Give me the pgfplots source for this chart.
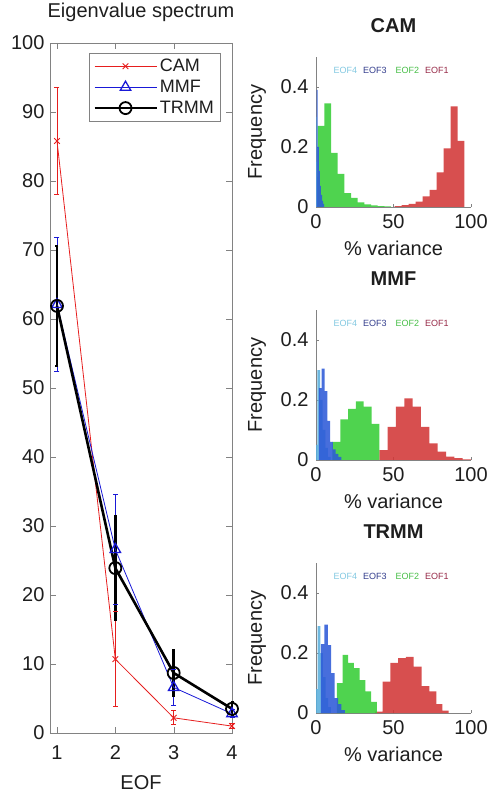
\documentclass[border=0pt]{standalone}
\usepackage{pgfplots}
\pgfplotsset{compat=1.18}
\usepackage{fontspec}
\setmainfont{Liberation Sans}

\definecolor{camred}{RGB}{230,30,30}
\definecolor{mmfblue}{RGB}{25,25,215}
\definecolor{axgray}{RGB}{130,130,130}
\definecolor{txt}{RGB}{30,30,30}
\definecolor{eofone}{RGB}{210,55,55}
\definecolor{eoftwo}{RGB}{55,205,55}
\definecolor{eofthree}{RGB}{45,90,215}
\definecolor{eoffour}{RGB}{90,175,220}
\definecolor{labone}{RGB}{150,40,70}
\definecolor{labtwo}{RGB}{70,190,70}
\definecolor{labthree}{RGB}{50,60,140}
\definecolor{labfour}{RGB}{130,200,225}

\newcommand{\fs}[1]{\fontsize{#1}{#1}\selectfont}

\pgfplotsset{
  histax/.style={
    anchor=south west, scale only axis, width=155pt, height=150pt,
    xmin=0, xmax=100, ymin=0, ymax=0.5,
    axis lines=left, axis line style={-, axgray},
    xtick={0,50,100}, ytick={0,0.2,0.4},
    tick style={axgray}, major tick length=3pt, tick align=inside,
    /pgf/number format/assume math mode=true,
    ticklabel style={font=\fs{20}, text=txt},
    xticklabel style={anchor=center, yshift=-15pt},
    yticklabel style={xshift=-4pt},
    xlabel={\% variance}, ylabel={Frequency},
    xlabel style={at={(axis description cs:0.5,-0.273)}, anchor=center, font=\fs{20}, text=txt},
    ylabel style={at={(axis description cs:-0.381,0.5)}, anchor=center, font=\fs{20}, text=txt},
    title style={at={(axis description cs:0.5,1.167)}, anchor=center, font=\fs{20}\bfseries, text=txt},
  },
  hbar/.style={ybar interval, draw=none, fill=#1, fill opacity=0.88},
  % error bars: low/high pairs, separated by nan, capped with a - mark
  ebar/.style={forget plot, unbounded coords=jump, mark=-, mark size=2.5pt, #1},
}

\newcommand{\eoflabels}{%
  \node[font=\fs{9}, text=labfour] at (axis cs:19,0.455) {EOF4};
  \node[font=\fs{9}, text=labthree] at (axis cs:38,0.455) {EOF3};
  \node[font=\fs{9}, text=labtwo] at (axis cs:59,0.455) {EOF2};
  \node[font=\fs{9}, text=labone] at (axis cs:78,0.455) {EOF1};
}

\begin{document}
\begin{tikzpicture}
\useasboundingbox (0,0) rectangle (487pt,793pt);

% eigenvalue spectrum
\begin{axis}[
  at={(50pt,60pt)}, anchor=south west, scale only axis,
  width=182pt, height=690pt,
  xmin=0.88, xmax=4, ymin=0, ymax=100,
  xtick={1,2,3,4}, ytick={0,10,...,100},
  tick align=inside, major tick length=6pt,
  axis line style={axgray}, tick style={axgray},
  /pgf/number format/assume math mode=true,
  ticklabel style={font=\fs{20}, text=txt},
  xticklabel style={anchor=center, yshift=-20pt},
  yticklabel style={xshift=-2pt},
  title={Eigenvalue spectrum},
  title style={at={(axis description cs:0.5,1.036)}, anchor=center, font=\fs{20}, text=txt},
  xlabel={EOF},
  xlabel style={at={(axis description cs:0.5,-0.0725)}, anchor=center, font=\fs{20}, text=txt},
  clip=false,
  legend style={at={(axis description cs:1,1)}, anchor=north east, xshift=-12pt, yshift=-10pt,
    draw=axgray, font=\fs{18}, text=txt, cells={anchor=west}, inner sep=4pt, row sep=3pt},
  legend image code/.code={\draw[mark repeat=2, mark phase=2, #1] plot coordinates {(0pt,0pt) (31pt,0pt) (62pt,0pt)};},
]
% error bars
\addplot[ebar={draw=camred, line width=0.9pt}] coordinates {
  (1,78.0) (1,93.6) (1,nan) (2,3.8) (2,17.6) (2,nan) (3,1.2) (3,3.2) (3,nan) (4,0.6) (4,1.4)};
\addplot[ebar={draw=mmfblue, line width=0.9pt}] coordinates {
  (1,52.4) (1,71.8) (1,nan) (2,18.6) (2,34.6) (2,nan) (3,4.0) (3,9.2) (3,nan) (4,2.2) (4,3.4)};
\addplot[ebar={draw=black, line width=2.6pt, mark size=1.5pt}] coordinates {
  (1,53.2) (1,70.6) (1,nan) (2,16.4) (2,31.4) (2,nan) (3,5.4) (3,12.0) (3,nan) (4,2.5) (4,4.5)};
% means
\addplot[color=camred, line width=0.8pt, mark=x, mark size=4pt, mark options={line width=0.9pt}]
  coordinates {(1,85.8) (2,10.7) (3,2.2) (4,1.0)};
\addlegendentry{CAM}
\addplot[color=mmfblue, line width=0.8pt, mark=triangle, mark size=6pt, mark options={line width=1.3pt}]
  coordinates {(1,62.1) (2,26.6) (3,6.6) (4,2.8)};
\addlegendentry{MMF}
\addplot[color=black, line width=2.6pt, mark=o, mark size=6pt, mark options={line width=1.8pt}]
  coordinates {(1,61.9) (2,23.9) (3,8.7) (4,3.5)};
\addlegendentry{TRMM}
\end{axis}

% CAM histogram
\begin{axis}[histax, at={(316pt,586pt)}, title={CAM}]
\addplot[hbar=eofone] coordinates {(50.8,0.003) (55.3,0.006) (59.8,0.010) (64.3,0.018) (68.8,0.035)
  (73.3,0.057) (77.8,0.115) (82.3,0.195) (86.8,0.335) (91.3,0.220) (95.8,0)};
\addplot[hbar=eoftwo] coordinates {(1.1,0.270) (5.4,0.345) (9.7,0.180) (14.0,0.110) (18.3,0.046)
  (22.6,0.030) (26.9,0.015) (31.2,0.009) (35.5,0.005) (39.8,0.003) (44.1,0.002) (48.4,0)};
\addplot[hbar=eoffour] coordinates {(0,0.15) (0.3,0.30) (0.6,0.20) (0.9,0.10) (1.2,0)};
\addplot[hbar=eofthree] coordinates {(0.4,0.390) (1.1,0.200) (1.8,0.120) (2.5,0.070) (3.2,0.040)
  (3.9,0.020) (4.6,0.010) (5.3,0)};
\eoflabels
\end{axis}

% MMF histogram
\begin{axis}[histax, at={(316pt,333pt)}, title={MMF}]
\addplot[hbar=eofone] coordinates {(40.9,0.033) (46.2,0.110) (51.6,0.178) (57.0,0.205) (62.4,0.178)
  (67.7,0.110) (73.1,0.055) (78.5,0.028) (83.9,0.011) (89.2,0.006) (94.6,0.002) (100,0)};
\addplot[hbar=eoftwo] coordinates {(10.6,0.060) (15.65,0.135) (20.7,0.170) (25.75,0.195)
  (30.8,0.178) (35.85,0.120) (40.9,0)};
\addplot[hbar=eoffour] coordinates {(0,0.05) (0.9,0.30) (2.6,0.20) (4.3,0.10) (6.0,0.04) (7.7,0.01) (9.4,0)};
\addplot[hbar=eofthree] coordinates {(1.9,0.240) (3.7,0.305) (5.5,0.230) (7.3,0.130) (9.1,0.060)
  (10.9,0.035) (12.7,0.020) (14.5,0.010) (16.3,0)};
\eoflabels
\end{axis}

% TRMM histogram
\begin{axis}[histax, at={(316pt,80pt)}, title={TRMM}]
\addplot[hbar=eofone] coordinates {(38.0,0.005) (43.0,0.105) (48.0,0.167) (53.0,0.183) (58.0,0.187)
  (63.0,0.155) (68.2,0.090) (73.2,0.072) (77.7,0.030) (81.6,0.008) (85.5,0)};
\addplot[hbar=eoftwo] coordinates {(13.4,0.100) (17.1,0.194) (20.8,0.167) (24.5,0.150) (28.2,0.110)
  (31.9,0.072) (35.6,0.037) (39.3,0)};
\addplot[hbar=eoffour] coordinates {(0,0.08) (1.1,0.29) (2.8,0.20) (4.5,0.12) (6.2,0.05) (7.9,0.02) (9.6,0)};
\addplot[hbar=eofthree] coordinates {(3.2,0.230) (5.4,0.295) (7.6,0.226) (9.8,0.133) (12.0,0.050)
  (14.2,0.030) (16.4,0.010) (18.6,0)};
\eoflabels
\end{axis}
\end{tikzpicture}
\end{document}
